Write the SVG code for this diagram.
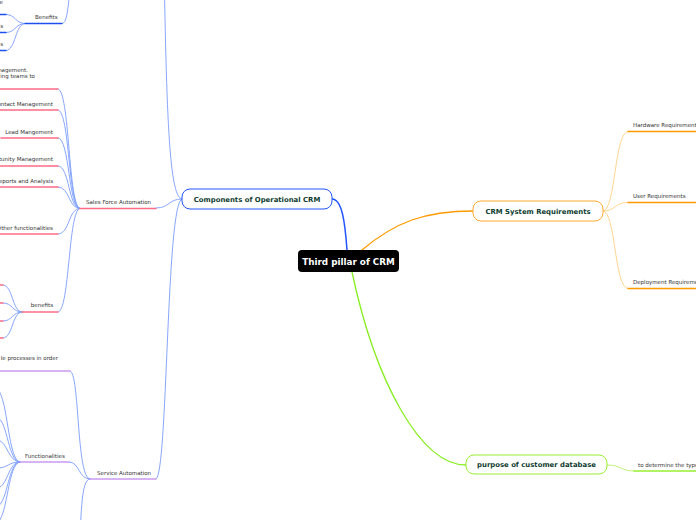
<svg xmlns="http://www.w3.org/2000/svg" width="696" height="520" viewBox="0 0 696 520">
<style>
.bg{fill:#ffffff}
.c{fill:none;stroke-linecap:round}
.lb{stroke:#7a9cff;stroke-width:0.9}
.lo{stroke:#ffcf85;stroke-width:0.9}
.lg{stroke:#b4f266;stroke-width:0.9}
.ub{stroke:#1e50f0;stroke-width:1.3}
.ur{stroke:#ff6b86;stroke-width:1.3}
.up{stroke:#cc9af0;stroke-width:1.3}
.uo{stroke:#ff9a00;stroke-width:1.3}
.ug{stroke:#99ee33;stroke-width:1.3}
.t{font-family:"DejaVu Sans",Verdana,sans-serif;font-size:5.5px;fill:#333333}
.nb{font-family:"DejaVu Sans",Verdana,sans-serif;font-size:6.9px;font-weight:bold;fill:#0d3b2e;text-anchor:middle}
.box{fill:#ffffff;stroke-width:1}
</style>
<rect class="bg" x="0" y="0" width="696" height="520"/>
<g id="connectors">
  <path class="c" stroke="#2255ff" stroke-width="1.5" d="M347,250 C345,222 342,199 332,199"/>
  <path class="c" stroke="#ff9a00" stroke-width="1.3" d="M362,250 C395,222 425,211 473,211"/>
  <path class="c" stroke="#88ee22" stroke-width="1.3" d="M352,272 C375,380 420,465 466,465"/>
  <path class="c lb" d="M182,199 C168,199 166,100 163,-100"/>
  <path class="c lb" d="M182,199 C168,199 170,208 156,208"/>
  <path class="c lb" d="M182,199 C166,199 168,479 156,479"/>
  <path class="c lb" d="M62,23.5 C68,23.5 68,5 72,-30"/>
  <path class="c lb" d="M25,23.5 C15,23.5 16,14.5 6,14.5"/>
  <path class="c lb" d="M25,23.5 C15,23.5 16,32.5 6,32.5"/>
  <path class="c lb" d="M25,23.5 C15,23.5 16,50.5 6,50.5"/>
  <path class="c lb" d="M80,208.5 C68,208.5 70,89 58,89"/>
  <path class="c lb" d="M80,208.5 C68,208.5 70,110 58,110"/>
  <path class="c lb" d="M80,208.5 C68,208.5 70,138 58,138"/>
  <path class="c lb" d="M80,208.5 C68,208.5 70,166 58,166"/>
  <path class="c lb" d="M80,208.5 C68,208.5 70,187 58,187"/>
  <path class="c lb" d="M80,208.5 C68,208.5 70,234 58,234"/>
  <path class="c lb" d="M80,208.5 C68,208.5 70,312 58,312"/>
  <path class="c lb" d="M22,312 C12,312 13,285 3,285"/>
  <path class="c lb" d="M22,312 C12,312 13,303 3,303"/>
  <path class="c lb" d="M22,312 C12,312 13,321 3,321"/>
  <path class="c lb" d="M22,312 C12,312 13,338 3,338"/>
  <path class="c lb" d="M90,479 C76,479 80,371 70,371"/>
  <path class="c lb" d="M90,479 C78,479 80,462 69,462"/>
  <path class="c lb" d="M90,479 C80,479 82,520 78,560"/>
  <path class="c lb" d="M20,462 C8,462 8,398 -2,390"/>
  <path class="c lb" d="M20,462 C8,462 8,422 -2,418"/>
  <path class="c lb" d="M20,462 C8,462 8,442 -2,440"/>
  <path class="c lb" d="M20,462 C8,462 8,468 -2,468"/>
  <path class="c lb" d="M20,462 C8,462 8,486 -2,488"/>
  <path class="c lb" d="M20,462 C8,462 8,502 -2,506"/>
  <path class="c lb" d="M20,462 C8,462 8,515 -2,522"/>
  <path class="c lo" d="M603,211 C616,211 614,131.5 628,131.5"/>
  <path class="c lo" d="M603,211 C616,211 614,202.5 628,202.5"/>
  <path class="c lo" d="M603,211 C616,211 614,288.5 628,288.5"/>
  <path class="c lg" d="M607,465 C622,465 620,471 634,471"/>
</g>
<g id="central">
  <rect x="298" y="250" width="101" height="22" rx="4" fill="#000000"/>
  <text x="348.5" y="264.5" font-family="'DejaVu Sans',Verdana,sans-serif" font-size="8.8" font-weight="bold" fill="#ffffff" text-anchor="middle">Third pillar of CRM</text>
</g>
<g id="components">
  <rect class="box" x="182" y="189" width="150" height="20" rx="8" stroke="#2255ff"/>
  <text class="nb" x="257" y="201.5">Components of Operational CRM</text>
</g>
<g id="crm-system-requirements">
  <rect class="box" x="473" y="201" width="130" height="20" rx="8" stroke="#ffaa33"/>
  <text class="nb" x="538" y="213.5">CRM System Requirements</text>
</g>
<g id="purpose">
  <rect class="box" x="466" y="455" width="141" height="19" rx="8" stroke="#99ee33"/>
  <text class="nb" x="536.5" y="467">purpose of customer database</text>
</g>
<g id="benefits-top">
  <line class="c ub" x1="25" y1="23.5" x2="62" y2="23.5"/>
  <text class="t" x="35" y="19">Benefits</text>
  <line class="c ub" x1="-2" y1="14.5" x2="6" y2="14.5"/>
  <text class="t" x="3" y="4" text-anchor="end">e</text>
  <line class="c ub" x1="-2" y1="32.5" x2="6" y2="32.5"/>
  <text class="t" x="3" y="28" text-anchor="end">s</text>
  <line class="c ub" x1="-2" y1="50.5" x2="6" y2="50.5"/>
  <text class="t" x="3" y="46" text-anchor="end">s</text>
</g>
<g id="sales-force-automation">
  <line class="c ur" x1="80" y1="208.5" x2="156" y2="208.5"/>
  <text class="t" x="86" y="204">Sales Force Automation</text>
</g>
<g id="sfa-note">
  <line class="c ur" x1="-2" y1="89" x2="58" y2="89"/>
  <text class="t" x="28" y="72" text-anchor="end">nagement.</text>
  <text class="t" x="35" y="78" text-anchor="end">ing teams to</text>
</g>
<g id="contact-management">
  <line class="c ur" x1="-2" y1="110" x2="58" y2="110"/>
  <text class="t" x="53" y="106" text-anchor="end">Contact Management</text>
</g>
<g id="lead-management">
  <line class="c ur" x1="1" y1="138" x2="58" y2="138"/>
  <text class="t" x="53" y="134" text-anchor="end">Lead Mangement</text>
</g>
<g id="opportunity-management">
  <line class="c ur" x1="-2" y1="166" x2="58" y2="166"/>
  <text class="t" x="53" y="161" text-anchor="end">Opportunity Management</text>
</g>
<g id="reports">
  <line class="c ur" x1="-2" y1="187" x2="58" y2="187"/>
  <text class="t" x="53" y="183" text-anchor="end">Reports and Analysis</text>
</g>
<g id="other-functionalities">
  <line class="c ur" x1="-2" y1="234" x2="58" y2="234"/>
  <text class="t" x="53" y="230" text-anchor="end">Other functionalities</text>
</g>
<g id="benefits-sfa">
  <line class="c ur" x1="22" y1="312" x2="58" y2="312"/>
  <text class="t" x="53" y="307" text-anchor="end">benefits</text>
  <line class="c ur" x1="-2" y1="285" x2="3" y2="285"/>
  <line class="c ur" x1="-2" y1="303" x2="3" y2="303"/>
  <line class="c ur" x1="-2" y1="321" x2="3" y2="321"/>
  <line class="c ur" x1="-2" y1="338" x2="3" y2="338"/>
</g>
<g id="service-automation">
  <line class="c up" x1="90" y1="479" x2="156" y2="479"/>
  <text class="t" x="97" y="475">Service Automation</text>
</g>
<g id="sa-note">
  <line class="c up" x1="-2" y1="371" x2="70" y2="371"/>
  <text class="t" x="58" y="360" text-anchor="end">le processes in order</text>
</g>
<g id="functionalities">
  <line class="c up" x1="20" y1="462" x2="69" y2="462"/>
  <text class="t" x="25" y="458">Functionalities</text>
</g>
<g id="hardware-requirements">
  <line class="c uo" x1="628" y1="131.5" x2="698" y2="131.5"/>
  <text class="t" x="633" y="127">Hardware Requirements</text>
</g>
<g id="user-requirements">
  <line class="c uo" x1="628" y1="202.5" x2="698" y2="202.5"/>
  <text class="t" x="633" y="198">User Requirements</text>
</g>
<g id="deployment-requirements">
  <line class="c uo" x1="628" y1="288.5" x2="698" y2="288.5"/>
  <text class="t" x="633" y="284">Deployment Requirements</text>
</g>
<g id="determine-type">
  <line class="c ug" x1="634" y1="471" x2="698" y2="471"/>
  <text class="t" x="638" y="467">to determine the type</text>
</g>
</svg>
